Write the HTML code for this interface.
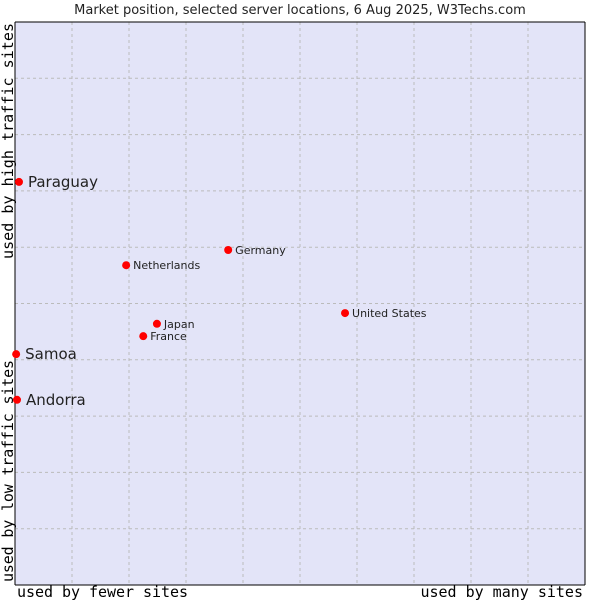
<!DOCTYPE html>
<html><head><meta charset="utf-8"><style>
body{margin:0;background:#fff;width:600px;height:600px;overflow:hidden}
svg text{font-family:"DejaVu Sans","Liberation Sans",sans-serif;fill:#222}
.mono{font-family:"DejaVu Sans Mono","Liberation Mono",monospace!important;fill:#000!important}
</style></head><body>
<svg id="chart" width="600" height="600">
<text x="300" y="14" text-anchor="middle" font-size="13">Market position, selected server locations, 6 Aug 2025, W3Techs.com</text>
<rect x="15" y="22" width="570" height="563" fill="#e3e4f8" stroke="none"/>
<g id="grid"></g>
<line x1="15" y1="22" x2="585" y2="22" stroke="#000"/>
<line x1="15" y1="22" x2="15" y2="585" stroke="#000"/>
<line x1="15" y1="585" x2="585" y2="585" stroke="#000"/>
<line x1="585" y1="22" x2="585" y2="585" stroke="#000"/>
<g id="points"></g>
<text class="mono" x="17" y="597" font-size="15" textLength="171">used by fewer sites</text>
<text class="mono" x="583" y="597" font-size="15" text-anchor="end">used by many sites</text>
<text class="mono" transform="translate(13,582) rotate(-90)" font-size="15" textLength="222">used by low traffic sites</text>
<text class="mono" transform="translate(13,259) rotate(-90)" font-size="15" textLength="236">used by high traffic sites</text>
</svg>
<script>
const names=["Paraguay","Samoa","Andorra","Netherlands","Germany","United States","Japan","France"];
const xValues=[0.7,0.2,0.35,19.5,37.4,57.9,24.9,22.5];
const yValues=[71.6,41.0,32.9,56.8,59.5,48.3,46.4,44.2];
const highlighted=[true,true,true,false,false,false,false,false];
const NS="http://www.w3.org/2000/svg";
const X=v=>15+v*5.7, Y=v=>585-v*5.63;
const grid=document.getElementById('grid');
for(let i=1;i<10;i++){
  const lv=document.createElementNS(NS,'line');
  lv.setAttribute('x1',X(i*10));lv.setAttribute('x2',X(i*10));lv.setAttribute('y1',22);lv.setAttribute('y2',585);
  lv.setAttribute('stroke','#bbb');lv.setAttribute('stroke-dasharray','3,3');
  
  
  grid.appendChild(lv);
  const lh=document.createElementNS(NS,'line');
  lh.setAttribute('y1',Y(i*10));lh.setAttribute('y2',Y(i*10));lh.setAttribute('x1',15);lh.setAttribute('x2',585);
  lh.setAttribute('stroke','#bbb');lh.setAttribute('stroke-dasharray','3,3');
  
  
  grid.appendChild(lh);
}
const pts=document.getElementById('points');
names.forEach((n,i)=>{
  const cx=X(xValues[i]),cy=Y(yValues[i]);
  const c=document.createElementNS(NS,'circle');
  c.setAttribute('cx',cx);c.setAttribute('cy',cy);c.setAttribute('r',4);c.setAttribute('fill','#f00');
  
  
  pts.appendChild(c);
  const t=document.createElementNS(NS,'text');
  const big=highlighted[i];
  t.setAttribute('x',cx+(big?9:7));t.setAttribute('y',cy+(big?5:4));
  t.setAttribute('font-size',big?15:11);
  t.textContent=n;
  
  
  pts.appendChild(t);
});
</script>
</body></html>
